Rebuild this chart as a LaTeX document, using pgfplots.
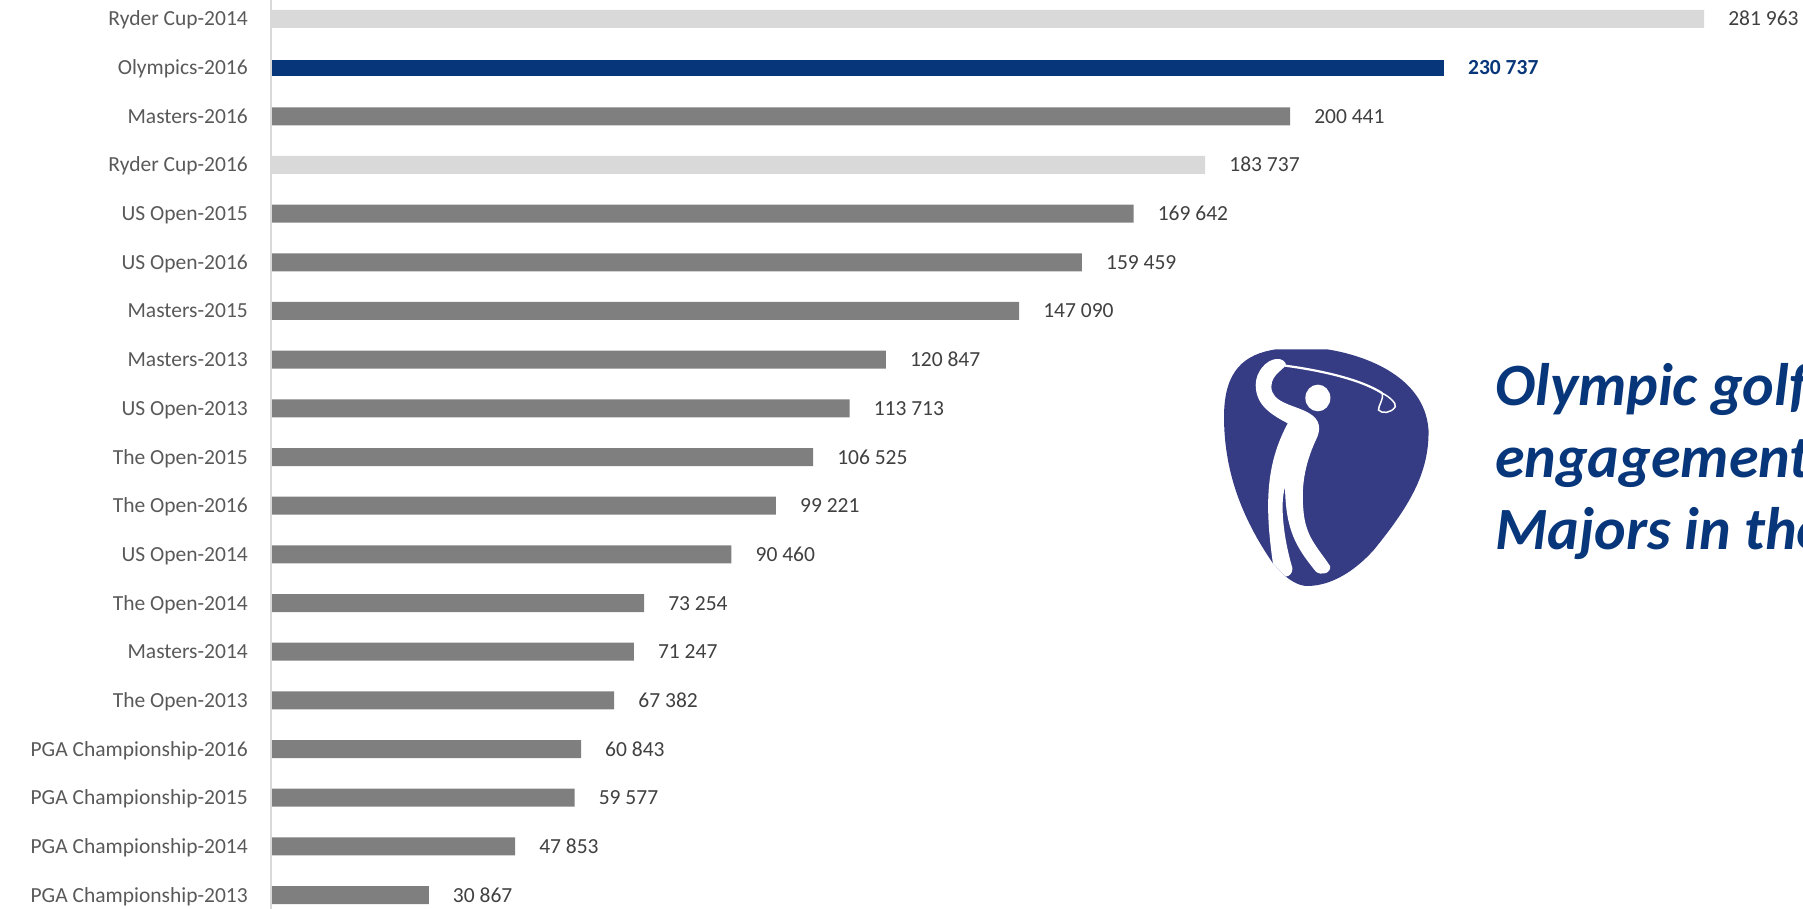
\documentclass[border=0pt]{standalone}
\usepackage{pgfplots}
\pgfplotsset{compat=1.18}
\usepackage{fontspec}
\setmainfont{Carlito}
\definecolor{olyblue}{HTML}{08367A}
\definecolor{midgrey}{HTML}{7F7F7F}
\definecolor{lightgrey}{HTML}{D9D9D9}
\definecolor{ticktext}{HTML}{595959}
\definecolor{valtext}{HTML}{404040}
\definecolor{logoblue}{HTML}{353C84}
\begin{document}
\begin{tikzpicture}[x=1pt,y=1pt]
\clip (0,0) rectangle (1803,909);
\useasboundingbox (0,0) rectangle (1803,909);
\begin{axis}[
  at={(0pt,0pt)}, anchor=south west,
  scale only axis, width=1803pt, height=909pt,
  clip=false,
  xmin=-53554, xmax=301437,
  ymin=-0.39, ymax=18.287, y dir=reverse,
  axis x line=none,
  axis y line=middle,
  axis line style={-, draw=lightgrey, line width=2pt, xshift=-1pt},
  hide obscured y ticks=false,
  xbar, bar shift=0pt,
  ytick={0,...,18},
  yticklabels={Ryder Cup-2014,Olympics-2016,Masters-2016,Ryder Cup-2016,US Open-2015,US Open-2016,Masters-2015,Masters-2013,US Open-2013,The Open-2015,The Open-2016,US Open-2014,The Open-2014,Masters-2014,The Open-2013,PGA Championship-2016,PGA Championship-2015,PGA Championship-2014,PGA Championship-2013},
  major tick length=0pt,
  yticklabel style={font=\fontsize{21.5}{24}\selectfont, text=ticktext, anchor=base east, inner sep=0pt, xshift=-24pt, yshift=-7pt},
  point meta=x,
  nodes near coords={\pgfmathprintnumber[fixed,precision=0,1000 sep={\ },assume math mode=true]{\pgfplotspointmeta}},
  nodes near coords style={font=\fontsize{21.5}{24}\selectfont, text=valtext, anchor=base west, inner sep=0pt, xshift=24pt, yshift=-7pt},
]
% Ryder Cup editions
\addplot[fill=lightgrey, draw=none, bar width=18pt] coordinates {(281963,0) (183737,3)};
% Olympic tournament
\addplot[fill=olyblue, draw=none, bar width=16pt, nodes near coords style={font=\fontsize{21.5}{24}\selectfont\bfseries, text=olyblue}] coordinates {(230737,1)};
% Men's majors
\addplot[fill=midgrey, draw=none, bar width=18pt] coordinates {
  (200441,2) (169642,4) (159459,5) (147090,6) (120847,7) (113713,8)
  (106525,9) (99221,10) (90460,11) (73254,12) (71247,13) (67382,14)
  (60843,15) (59577,16) (47853,17) (30867,18)};
\end{axis}
% Golfer emblem
\begin{scope}[shift={(1190,579)}, x=0.391pt, y=-0.3333pt]
  \fill[logoblue] (220,58) -- (350,58)
    .. controls (430,72) and (600,130) .. (610,300)
    .. controls (612,430) and (560,530) .. (470,660)
    .. controls (420,725) and (360,768) .. (300,768)
    .. controls (280,768) and (262,755) .. (245,740)
    -- (212,700)
    .. controls (130,560) and (87,420) .. (87,260)
    .. controls (87,120) and (140,72) .. (220,58) -- cycle;
  \fill[white] (327,204) ellipse [x radius=32, y radius=40];
  \fill[white] (220,87) .. controls (235,85) and (243,95) .. (245,102)
    .. controls (247,115) and (208,130) .. (208,170)
    .. controls (208,220) and (270,225) .. (305,250)
    .. controls (335,270) and (335,300) .. (322,330)
    .. controls (290,410) and (285,480) .. (290,540)
    .. controls (295,620) and (325,650) .. (358,708)
    .. controls (362,730) and (335,738) .. (322,725)
    .. controls (270,650) and (245,600) .. (243,472)
    .. controls (230,520) and (238,620) .. (262,715)
    .. controls (262,730) and (255,738) .. (245,740)
    -- (212,700)
    .. controls (190,520) and (195,400) .. (250,280)
    .. controls (200,250) and (168,220) .. (168,165)
    .. controls (168,125) and (195,90) .. (220,87) -- cycle;
  \draw[white, line width=2.2pt] (243,107) .. controls (340,122) and (440,150) .. (492,190);
  \draw[white, line width=1.5pt] (492,190) .. controls (510,200) and (528,220) .. (525,230)
    .. controls (515,250) and (490,252) .. (482,240)
    .. controls (482,225) and (495,210) .. (492,190);
\end{scope}
% Callout text, running past the right edge
\node[anchor=base west, inner sep=0pt, text=olyblue, font=\fontsize{60}{72}\selectfont\bfseries\itshape] at (1495,503) {Olympic golf};
\node[anchor=base west, inner sep=0pt, text=olyblue, font=\fontsize{60}{72}\selectfont\bfseries\itshape] at (1495,431) {engagement};
\node[anchor=base west, inner sep=0pt, text=olyblue, font=\fontsize{60}{72}\selectfont\bfseries\itshape] at (1495,359) {Majors in the};
\end{tikzpicture}
\end{document}
